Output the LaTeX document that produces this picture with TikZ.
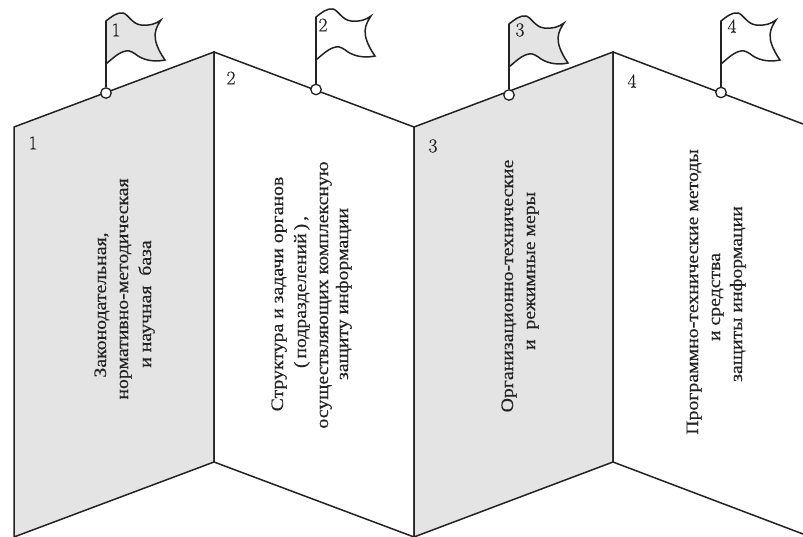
\documentclass[tikz,border=0pt]{standalone}
\usepackage{fontspec}
\newfontfamily\rufont[FakeStretch=1.13,FakeBold=0.25]{Liberation Serif}
\newfontfamily\numfont[FakeBold=0.35]{Latin Modern Roman}
\definecolor{panelgray}{HTML}{E4E4E4}
\definecolor{ink}{HTML}{222222}
\tikzset{
  outline/.style={draw=ink,line width=1.5pt,line join=miter},
  shaded/.style={outline,fill=panelgray},
  plain/.style={outline,fill=white},
  pin/.style={circle,draw=ink,fill=white,line width=1.3pt,inner sep=0pt,minimum size=10.5pt},
  num/.style={font=\numfont\fontsize{19.5}{19.5}\selectfont,text=ink,inner sep=0pt},
  txt/.style={font=\rufont\fontsize{17.5}{17.5}\selectfont,text=ink,rotate=90,anchor=base,inner sep=0pt}
}
\newcommand{\flagshape}[3]{%
  \begin{scope}[shift={(#1,#2)}]
  \path[#3] (0,0) .. controls (5,-4) and (11,-9) .. (17,-8)
    .. controls (22,-7) and (26,3) .. (35,4)
    .. controls (43,5) and (50,3) .. (55,-1)
    .. controls (50,7) and (43,16) .. (59,39)
    .. controls (50,41) and (40,40) .. (32,35)
    .. controls (28,32) and (24,29) .. (20,30)
    .. controls (13,31) and (6,38) .. (0,43) -- cycle;
  \end{scope}}
\begin{document}
\begin{tikzpicture}[x=1pt,y=-1pt]
\useasboundingbox (0,0) rectangle (803,537);
% panels
\path[shaded] (14,127) -- (214,52) -- (214,462) -- (14,537) -- cycle;
\path[plain] (214,52) -- (414,127) -- (414,537) -- (214,462) -- cycle;
\path[shaded] (414,127) -- (613,52) -- (613,462) -- (414,537) -- cycle;
\path[draw=ink,line width=1.5pt] (803,124) -- (613,52) -- (613,462) -- (803,534);
% flag 1
\flagshape{106}{21}{shaded}
\coordinate (f1) at (106,21);
\node[pin] (p1) at (106,93) {};
\draw[outline] (f1) -- (p1);
% flag 2
\flagshape{316}{17}{plain}
\coordinate (f2) at (316,17);
\node[pin] (p2) at (316,89.5) {};
\draw[outline] (f2) -- (p2);
% flag 3
\flagshape{509}{24}{shaded}
\coordinate (f3) at (509,24);
\node[pin] (p3) at (509,95) {};
\draw[outline] (f3) -- (p3);
% flag 4
\flagshape{721}{21}{plain}
\coordinate (f4) at (721,21);
\node[pin] (p4) at (721,92.5) {};
\draw[outline] (f4) -- (p4);
% numbers
\node[num] (n1) at (33,143) {1};
\node[num] (n2) at (231,78) {2};
\node[num] (n3) at (433,146) {3};
\node[num] (n4) at (632,81) {4};
\node[num] (m1) at (116,30) {1};
\node[num] (m2) at (323,25) {2};
\node[num] (m3) at (520,30) {3};
\node[num] (m4) at (732,26) {4};
% texts
\node[txt] (a1) at (106,305) {Законодательная,};
\node[txt] (a2) at (128,289) {нормативно-методическая};
\node[txt] (a3) at (151,304) {и научная\ \ база};
\node[txt] (b1) at (283,294) {Структура и задачи органов};
\node[txt] (b2) at (306,292) {(\,подразделений\,)\,,};
\node[txt] (b3) at (328,295) {осуществляющих комплексную};
\node[txt] (b4) at (348,294) {защиту информации};
\node[txt] (c1) at (513,286) {Организационно-технические};
\node[txt] (c2) at (535,271) {и\ \ режимные меры};
\node[txt] (d1) at (698,292) {Программно-технические методы};
\node[txt] (d2) at (720,297) {и средства};
\node[txt] (d3) at (742,294) {защиты информации};
\end{tikzpicture}
\end{document}
